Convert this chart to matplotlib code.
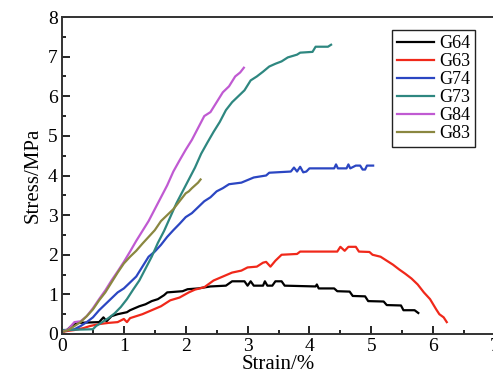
#!/usr/bin/env python3
"""Stress-strain curves of six specimens (G64 ... G83)."""

import matplotlib

matplotlib.use("Agg")
import matplotlib.pyplot as plt
from matplotlib.ticker import MultipleLocator

# ---- data (strain in %, stress in MPa) ----
g64_strain = [0.0, 0.08, 0.15, 0.25, 0.6, 0.67, 0.72, 0.8, 0.9, 1.05, 1.1, 1.25, 1.35, 1.45,
              1.55, 1.65, 1.7, 1.95, 2.03, 2.2, 2.4, 2.65, 2.75, 2.95, 3.0, 3.05, 3.1, 3.25,
              3.28, 3.32, 3.4, 3.45, 3.55, 3.6, 4.1, 4.12, 4.15, 4.4, 4.45, 4.65, 4.7, 4.9,
              4.95, 5.2, 5.25, 5.48, 5.52, 5.7, 5.76]
g64_stress = [0.05, 0.1, 0.2, 0.28, 0.3, 0.42, 0.32, 0.45, 0.5, 0.55, 0.6, 0.7, 0.75, 0.83,
              0.88, 0.98, 1.05, 1.08, 1.13, 1.15, 1.2, 1.22, 1.33, 1.33, 1.22, 1.33, 1.22, 1.22,
              1.33, 1.22, 1.22, 1.33, 1.33, 1.22, 1.2, 1.25, 1.15, 1.15, 1.08, 1.07, 0.96, 0.95,
              0.83, 0.82, 0.73, 0.72, 0.6, 0.6, 0.53]

g63_strain = [0.0, 0.1, 0.2, 0.35, 0.45, 0.6, 0.75, 0.9, 1.0, 1.05, 1.1, 1.3, 1.45, 1.6,
              1.75, 1.9, 2.05, 2.15, 2.3, 2.45, 2.6, 2.75, 2.9, 3.0, 3.15, 3.25, 3.3, 3.37,
              3.45, 3.55, 3.8, 3.85, 4.45, 4.5, 4.57, 4.63, 4.75, 4.8, 4.97, 5.02, 5.15, 5.25,
              5.35, 5.45, 5.55, 5.65, 5.75, 5.85, 5.95, 6.05, 6.1, 6.17, 6.22]
g63_stress = [0.05, 0.08, 0.1, 0.15, 0.2, 0.25, 0.28, 0.3, 0.38, 0.3, 0.4, 0.5, 0.6, 0.7,
              0.85, 0.92, 1.05, 1.12, 1.18, 1.35, 1.45, 1.55, 1.6, 1.68, 1.7, 1.8, 1.82, 1.7,
              1.85, 2.0, 2.02, 2.08, 2.08, 2.2, 2.1, 2.2, 2.2, 2.08, 2.07, 2.0, 1.95, 1.85,
              1.75, 1.63, 1.52, 1.4, 1.25, 1.05, 0.88, 0.62, 0.5, 0.42, 0.3]

g74_strain = [0.0, 0.2, 0.3, 0.4, 0.5, 0.6, 0.7, 0.8, 0.9, 1.0, 1.1, 1.2, 1.3, 1.4, 1.5,
              1.6, 1.7, 1.8, 1.9, 2.0, 2.1, 2.2, 2.3, 2.4, 2.5, 2.6, 2.7, 2.9, 3.1, 3.3,
              3.35, 3.7, 3.75, 3.8, 3.85, 3.9, 3.95, 4.0, 4.4, 4.43, 4.46, 4.6, 4.63, 4.66,
              4.75, 4.82, 4.86, 4.9, 4.93, 5.03]
g74_stress = [0.08, 0.12, 0.2, 0.3, 0.42, 0.6, 0.75, 0.9, 1.05, 1.15, 1.3, 1.45, 1.7, 1.95,
              2.08, 2.25, 2.45, 2.62, 2.78, 2.95, 3.05, 3.2, 3.35, 3.45, 3.6, 3.68, 3.78, 3.82,
              3.95, 4.0, 4.07, 4.1, 4.2, 4.1, 4.22, 4.08, 4.1, 4.18, 4.18, 4.28, 4.18, 4.18,
              4.28, 4.18, 4.25, 4.25, 4.15, 4.15, 4.25, 4.25]

g73_strain = [0.0, 0.5, 0.55, 0.65, 0.75, 0.85, 0.95, 1.05, 1.15, 1.25, 1.35, 1.45, 1.55,
              1.65, 1.75, 1.85, 1.95, 2.05, 2.15, 2.25, 2.35, 2.45, 2.55, 2.65, 2.75, 2.85,
              2.95, 3.05, 3.15, 3.25, 3.35, 3.45, 3.55, 3.65, 3.8, 3.85, 4.05, 4.1, 4.3, 4.35]
g73_stress = [0.1, 0.12, 0.2, 0.3, 0.4, 0.52, 0.68, 0.88, 1.12, 1.35, 1.65, 1.95, 2.3,
              2.6, 2.95, 3.3, 3.6, 3.9, 4.2, 4.55, 4.83, 5.1, 5.35, 5.65, 5.85, 6.0,
              6.15, 6.4, 6.5, 6.62, 6.75, 6.82, 6.88, 6.98, 7.05, 7.1, 7.12, 7.25, 7.25, 7.3]

g84_strain = [0.0, 0.1, 0.2, 0.3, 0.4, 0.5, 0.6, 0.7, 0.8, 0.9, 1.0, 1.1, 1.2, 1.3, 1.4,
              1.5, 1.6, 1.7, 1.8, 1.9, 2.0, 2.1, 2.2, 2.3, 2.4, 2.5, 2.6, 2.7, 2.8, 2.88, 2.94]
g84_stress = [0.05, 0.12, 0.3, 0.32, 0.45, 0.65, 0.88, 1.1, 1.35, 1.58, 1.82, 2.08, 2.35,
              2.6, 2.85, 3.15, 3.45, 3.75, 4.1, 4.38, 4.65, 4.9, 5.2, 5.5, 5.6, 5.85, 6.1,
              6.25, 6.5, 6.6, 6.72]

g83_strain = [0.0, 0.1, 0.2, 0.3, 0.4, 0.5, 0.6, 0.7, 0.8, 0.9, 1.0, 1.1, 1.2, 1.3, 1.4,
              1.5, 1.6, 1.7, 1.8, 1.9, 2.0, 2.05, 2.1, 2.15, 2.2, 2.24]
g83_stress = [0.05, 0.1, 0.2, 0.3, 0.45, 0.62, 0.85, 1.05, 1.3, 1.55, 1.78, 1.95, 2.1,
              2.28, 2.45, 2.62, 2.85, 3.0, 3.15, 3.35, 3.55, 3.6, 3.68, 3.75, 3.82, 3.9]

labels = ["G64", "G63", "G74", "G73", "G84", "G83"]
colors = ["#000000", "#f0281a", "#2b46c2", "#2e8780", "#c05ad2", "#8a8740"]
series = [
    (g64_strain, g64_stress),
    (g63_strain, g63_stress),
    (g74_strain, g74_stress),
    (g73_strain, g73_stress),
    (g84_strain, g84_stress),
    (g83_strain, g83_stress),
]

plt.rcParams["font.family"] = ["Liberation Serif", "DejaVu Serif"]

fig = plt.figure(figsize=(4.93, 3.84), dpi=100)
# the x axis runs to 7, just past the right edge of the picture (as in the original)
ax = fig.add_axes([62 / 493, 50 / 384, 433 / 493, 317 / 384])

for (xs, ys), lab, col in zip(series, labels, colors):
    ax.plot(xs, ys, color=col, linewidth=1.6, label=lab)

ax.set_xlim(0, 7)
ax.set_ylim(0, 8)
ax.xaxis.set_major_locator(MultipleLocator(1))
ax.xaxis.set_minor_locator(MultipleLocator(0.5))
ax.yaxis.set_major_locator(MultipleLocator(1))
ax.yaxis.set_minor_locator(MultipleLocator(0.5))
ax.tick_params(which="both", direction="in", top=False, right=False, width=1.2,
               labelsize=14, pad=3)
ax.tick_params(which="major", length=6)
ax.tick_params(which="minor", length=3)
for sp in ax.spines.values():
    sp.set_linewidth(1.4)
    sp.set_color("#333333")

ax.set_xlabel("Strain/%", fontsize=15, labelpad=0)
ax.set_ylabel("Stress/MPa", fontsize=15, labelpad=4)

leg = ax.legend(loc="upper left", bbox_to_anchor=(392 / 493, 1 - 30 / 384),
                bbox_transform=fig.transFigure, borderaxespad=0, fontsize=13,
                fancybox=False, framealpha=1, edgecolor="#222222",
                handlelength=2.0, handletextpad=0.3, labelspacing=0.05,
                borderpad=0.3)
leg.get_frame().set_linewidth(1.0)

fig.savefig("out.png", dpi=100)
